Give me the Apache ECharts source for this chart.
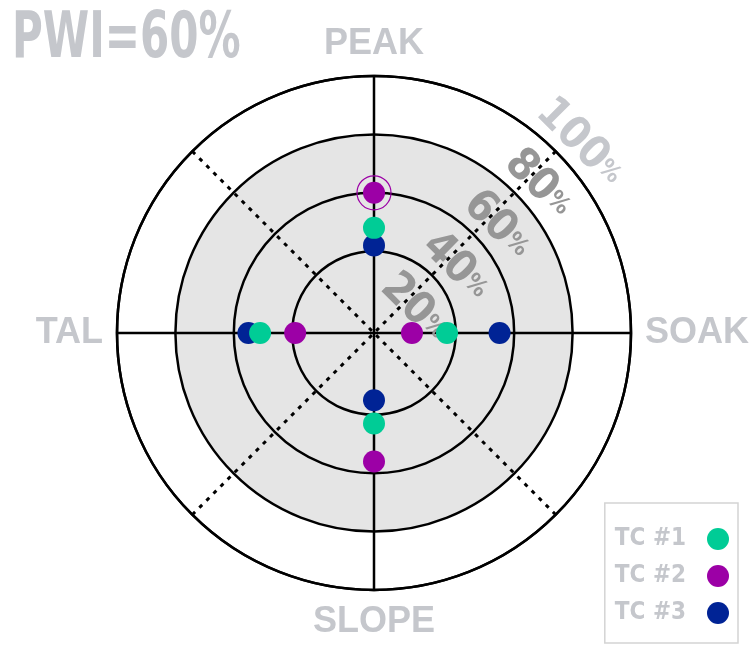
<!DOCTYPE html>
<html>
<head>
    <meta charset="utf-8">
    <title>PWI 60%</title>
    <script src="https://cdn.jsdelivr.net/npm/echarts@6.0.0/dist/echarts.min.js"></script>
    <style>
        html, body { margin: 0; padding: 0; background: #fff; }
        #main { width: 750px; height: 655px; }
    </style>
</head>
<body>
<div id="main"></div>
<script>
    // zones, clockwise from the top
    var categories = ['PEAK', 'SOAK', 'SLOPE', 'TAL'];
    var seriesNames = ['TC #1', 'TC #2', 'TC #3'];
    // values in %
    var tc1 = [48, 37, 43, 51];
    var tc2 = [60, 25, 56, 39];
    var tc3 = [42, 55, 35, 55];
    // circles, shaded zone and percent labels
    var ringValues = [40, 60, 80, 100];
    var shadeValues = [12, 80];
    var pctTicks = [20, 40, 60, 80, 100];
    var radiusMin = 12, radiusMax = 100;
    var peakIndex = 0;

    var narrow = "'DejaVu Sans Condensed', 'Liberation Sans', sans-serif";
    var labelGray = '#c5c7cc';

    function toPolar(values) {
        return categories.map(function (c, i) {
            return [values[i], c];
        });
    }

    var myChart = echarts.init(document.getElementById('main'));
    var option = {
        animation: false,
        graphic: [{
            type: 'text',
            left: 12,
            top: 8,
            scaleX: 0.73,
            style: {
                text: 'PWI=60%',
                fill: labelGray,
                font: "bold 64px 'DejaVu Sans Condensed', sans-serif"
            }
        }],
        legend: {
            orient: 'vertical',
            right: 12,
            bottom: 12,
            align: 'right',
            icon: 'circle',
            itemWidth: 22,
            itemHeight: 22,
            itemGap: 13,
            padding: [24, 9, 18, 10],
            borderColor: '#d4d4d4',
            borderWidth: 1.5,
            data: seriesNames,
            textStyle: {
                color: labelGray,
                fontSize: 24,
                fontWeight: 'bold',
                fontFamily: narrow,
                padding: [0, 16, 0, 0]
            }
        },
        polar: [
            { center: [374, 333], radius: 257 },
            { center: [374, 333], radius: 257 }
        ],
        angleAxis: [{
            polarIndex: 0,
            type: 'category',
            data: categories,
            startAngle: 90,
            clockwise: true,
            boundaryGap: false,
            z: 3,
            axisLine: { show: false },
            axisTick: { show: false },
            axisLabel: {
                margin: 14,
                color: labelGray,
                fontSize: 36,
                fontWeight: 'bold',
                fontFamily: "'Liberation Sans', Arial, sans-serif"
            },
            splitLine: { show: true, lineStyle: { color: '#000', width: 2.5 } }
        }, {
            polarIndex: 1,
            type: 'value',
            min: 0,
            max: 360,
            interval: 90,
            startAngle: 45,
            clockwise: true,
            z: 2,
            axisLine: { show: true, lineStyle: { color: '#000', width: 2.5 } },
            axisTick: { show: false },
            axisLabel: { show: false },
            splitLine: { show: true, lineStyle: { color: '#000', width: 3, type: [4, 6] } }
        }],
        radiusAxis: [{
            polarIndex: 0,
            type: 'value',
            min: radiusMin,
            max: radiusMax,
            z: 1,
            axisLine: { show: false },
            axisTick: { show: false, customValues: shadeValues },
            axisLabel: { show: false },
            splitLine: { show: false },
            splitArea: {
                show: true,
                areaStyle: { color: ['#e5e5e5'] }
            }
        }, {
            polarIndex: 1,
            type: 'value',
            min: radiusMin,
            max: radiusMax,
            z: 4,
            axisLine: { show: false },
            axisTick: { show: false, customValues: ringValues },
            splitLine: { show: true, lineStyle: { color: '#000', width: 2.5 } },
            axisLabel: {
                customValues: pctTicks,
                margin: 0,
                rotate: -45,
                align: 'center',
                verticalAlign: 'bottom',
                padding: [0, 0, 1, 22],
                formatter: function (v) {
                    return v === 100 ? '{a|' + v + '}{b|%}' : '{n|' + v + '}{p|%}';
                },
                rich: {
                    n: { color: '#969696', fontSize: 44, fontWeight: 'bold', fontFamily: narrow },
                    p: { color: '#969696', fontSize: 24, fontWeight: 'bold', fontFamily: narrow },
                    a: { color: labelGray, fontSize: 44, fontWeight: 'bold', fontFamily: narrow },
                    b: { color: labelGray, fontSize: 24, fontWeight: 'bold', fontFamily: narrow }
                }
            }
        }],
        series: [{
            name: 'TC #3',
            type: 'scatter',
            coordinateSystem: 'polar',
            polarIndex: 0,
            symbolSize: 22,
            z: 5,
            itemStyle: { color: '#002395', opacity: 1 },
            data: toPolar(tc3)
        }, {
            name: 'TC #1',
            type: 'scatter',
            coordinateSystem: 'polar',
            polarIndex: 0,
            symbolSize: 22,
            z: 6,
            itemStyle: { color: '#00cc96', opacity: 1 },
            data: toPolar(tc1)
        }, {
            name: 'TC #2',
            type: 'scatter',
            coordinateSystem: 'polar',
            polarIndex: 0,
            symbolSize: 22,
            z: 7,
            itemStyle: { color: '#9c00a6', opacity: 1 },
            data: toPolar(tc2)
        }, {
            // ring round the peak reading of TC #2
            name: 'peak',
            type: 'scatter',
            coordinateSystem: 'polar',
            polarIndex: 0,
            symbolSize: 34,
            z: 8,
            silent: true,
            itemStyle: { color: 'rgba(0,0,0,0)', borderColor: '#9c00a6', borderWidth: 1.2, opacity: 1 },
            data: [[tc2[peakIndex], categories[peakIndex]]]
        }]
    };
    myChart.setOption(option);
</script>
</body>
</html>
